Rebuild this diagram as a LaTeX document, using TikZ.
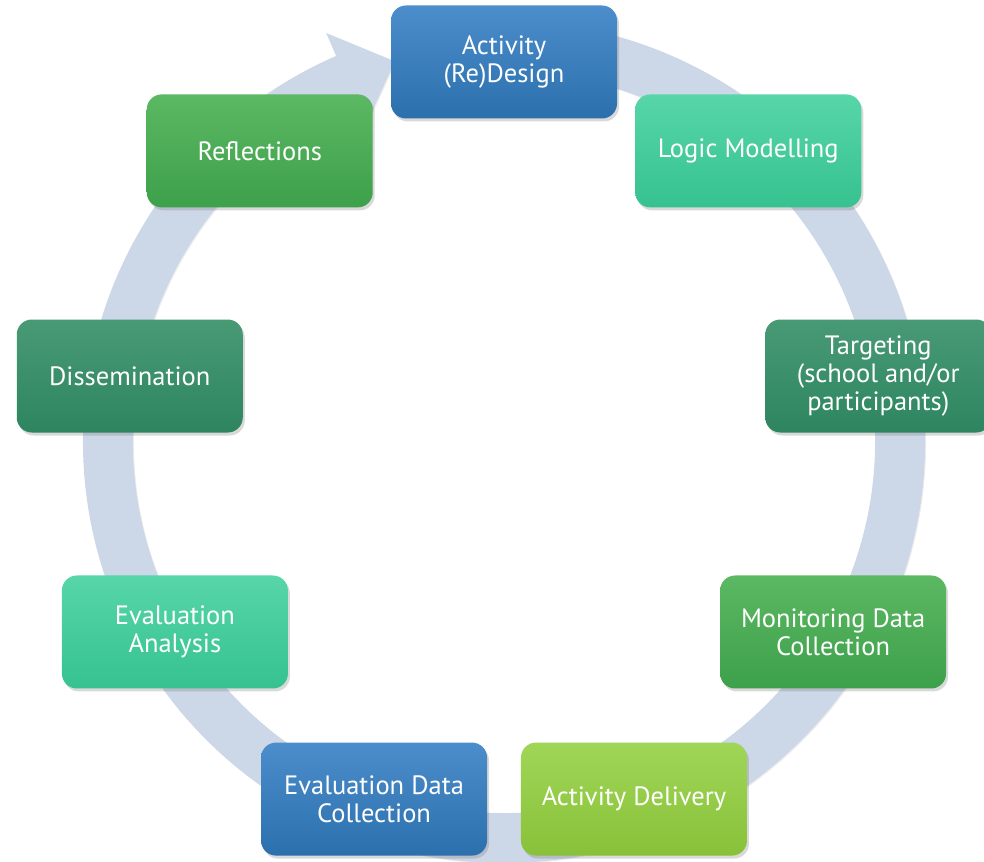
\documentclass[tikz,border=0pt]{standalone}
\usepackage{fontspec}
\setmainfont{PT Sans}
\usetikzlibrary{calc,shadows}

\definecolor{ringblue}{HTML}{CCD7E8}
\definecolor{bluetop}{HTML}{4C8DCB}
\definecolor{bluebot}{HTML}{2B70AD}
\definecolor{tealtop}{HTML}{57D6A8}
\definecolor{tealbot}{HTML}{36C290}
\definecolor{darktop}{HTML}{489A75}
\definecolor{darkbot}{HTML}{2D8560}
\definecolor{greentop}{HTML}{5CB862}
\definecolor{greenbot}{HTML}{3DA04B}
\definecolor{limetop}{HTML}{A0D657}
\definecolor{limebot}{HTML}{88C139}

\tikzset{
  stage/.style={rounded corners=15pt, minimum width=226pt, minimum height=113pt,
    inner sep=4pt, text=white, align=center,
    font=\fontsize{26.5}{28}\selectfont,
    drop shadow={shadow xshift=2pt, shadow yshift=-3pt, opacity=0.3}},
  bluestage/.style={stage, top color=bluetop, bottom color=bluebot},
  tealstage/.style={stage, top color=tealtop, bottom color=tealbot},
  darkstage/.style={stage, top color=darktop, bottom color=darkbot},
  greenstage/.style={stage, top color=greentop, bottom color=greenbot},
  limestage/.style={stage, top color=limetop, bottom color=limebot}
}

\begin{document}
\begin{tikzpicture}[x=1pt,y=1pt]
  \useasboundingbox (0,0) rectangle (984,861);
  \coordinate (c) at (504,419);

  % circular arrow behind the stages
  \fill[ringblue, drop shadow={shadow xshift=1pt, shadow yshift=-1pt, opacity=0.15}]
    ($(c)+(100:421)$) arc[start angle=100, end angle=-246.5, radius=421]
    -- ($(c)+(113.5:446)$) -- ($(c)+(106:396)$) -- ($(c)+(113.5:346)$)
    -- ($(c)+(113.5:371)$) arc[start angle=-246.5, end angle=100, radius=371]
    -- cycle;

  % stages
  \node[bluestage]  (design)   at ($(c)+(90:380)$)   {Activity\\(Re)Design};
  \node[tealstage]  (logic)    at ($(c)+(50:380)$)   {Logic Modelling};
  \node[darkstage]  (target)   at ($(c)+(10:380)$)   {Targeting\\(school and/or\\participants)};
  \node[greenstage] (monitor)  at ($(c)+(-30:380)$)  {Monitoring Data\\Collection};
  \node[limestage]  (delivery) at ($(c)+(-70:380)$)  {Activity Delivery};
  \node[bluestage]  (evaldata) at ($(c)+(-110:380)$) {Evaluation Data\\Collection};
  \node[tealstage]  (analysis) at ($(c)+(-150:380)$) {Evaluation\\Analysis};
  \node[darkstage]  (dissem)   at ($(c)+(170:380)$)  {Dissemination};
  \node[greenstage] (reflect)  at ($(c)+(130:380)$)  {Reflections};
\end{tikzpicture}
\end{document}
